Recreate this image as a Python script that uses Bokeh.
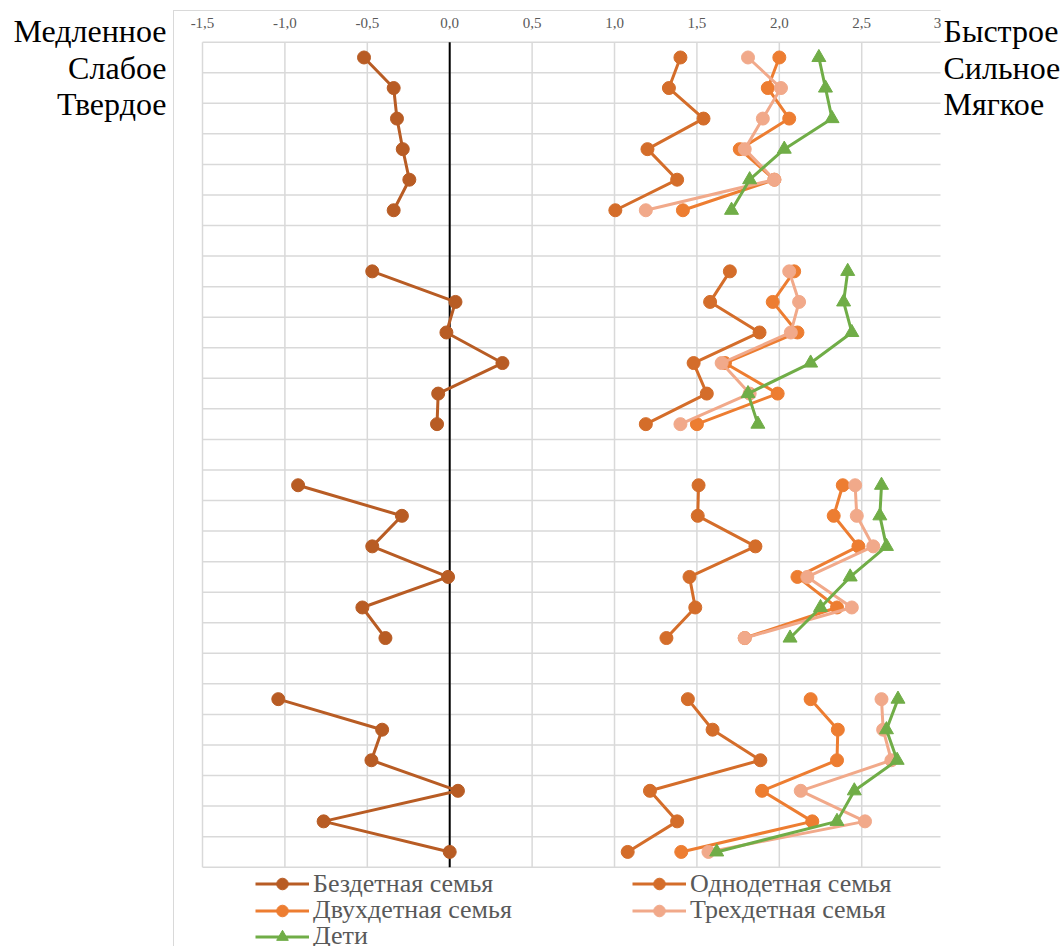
from bokeh.plotting import figure
from bokeh.models import (Range1d, FixedTicker, CustomJSTickFormatter, Label,
                          Legend, LegendItem, BoxAnnotation)
from bokeh.embed import file_html
from bokeh.resources import INLINE

nan = float("nan")

# ---- data -------------------------------------------------------------
left_labels = ["Медленное", "Слабое", "Твердое"]
right_labels = ["Быстрое", "Сильное", "Мягкое"]
x_ticks = [-1.5, -1.0, -0.5, 0.0, 0.5, 1.0, 1.5, 2.0, 2.5]
extra_tick_label = "3"          # the partly hidden last tick label

series_names = ["Бездетная семья", "Однодетная семья", "Двухдетная семья",
                "Трехдетная семья", "Дети"]

# 27 rows: 4 groups of 6 rows, separated by empty rows (nan)
bezdetnaya = [-0.52, -0.34, -0.32, -0.285, -0.245, -0.34, nan,
              -0.47, 0.035, -0.02, 0.32, -0.07, -0.077, nan,
              -0.92, -0.29, -0.47, -0.01, -0.53, -0.39, nan,
              -1.04, -0.41, -0.475, 0.05, -0.765, 0.0]
odnodetnaya = [1.40, 1.33, 1.54, 1.20, 1.38, 1.005, nan,
               1.70, 1.58, 1.88, 1.48, 1.56, 1.19, nan,
               1.51, 1.505, 1.855, 1.455, 1.49, 1.315, nan,
               1.445, 1.595, 1.885, 1.215, 1.38, 1.08]
dvuhdetnaya = [2.00, 1.93, 2.06, 1.76, 1.97, 1.415, nan,
               2.09, 1.96, 2.11, 1.67, 1.99, 1.50, nan,
               2.385, 2.33, 2.48, 2.11, 2.35, 1.79, nan,
               2.19, 2.355, 2.35, 1.895, 2.20, 1.405]
trehdetnaya = [1.81, 2.01, 1.90, 1.79, 1.97, 1.19, nan,
               2.06, 2.12, 2.07, 1.65, 1.82, 1.40, nan,
               2.46, 2.47, 2.57, 2.17, 2.44, 1.79, nan,
               2.62, 2.63, 2.68, 2.13, 2.52, 1.57]
deti = [2.24, 2.28, 2.32, 2.03, 1.82, 1.71, nan,
        2.415, 2.39, 2.44, 2.19, 1.81, 1.87, nan,
        2.62, 2.61, 2.65, 2.43, 2.25, 2.065, nan,
        2.72, 2.65, 2.715, 2.455, 2.35, 1.62]

series_values = [bezdetnaya, odnodetnaya, dvuhdetnaya, trehdetnaya, deti]
colors = ["#B85C24", "#D46D2A", "#ED7D31", "#F1A98A", "#70AD47"]
markers = ["circle", "circle", "circle", "circle", "triangle"]

n_rows = len(bezdetnaya)
rows = [i + 0.5 for i in range(n_rows)]
row_edges = list(range(n_rows + 1))

# ---- layout (pixels) ----------------------------------------------------
W, H = 1060, 946
PL, PR, PT, PB = 202.0, 940.0, 41.7, 866.7      # plot area in the canvas
X_MIN, X_MAX = -1.5, 2.978                        # value span of the plot area
px_x = (PR - PL) / (X_MAX - X_MIN)
px_y = (PB - PT) / n_rows
x_range = Range1d(X_MIN - PL / px_x, X_MAX + (W - PR) / px_x)
y_range = Range1d(n_rows + (H - PB) / px_y, -PT / px_y)   # inverted rows

p = figure(width=W, height=H, x_range=x_range, y_range=y_range,
           x_axis_location="above", y_axis_location=None,
           output_backend="svg", toolbar_location=None,
           min_border=0, min_border_left=0, min_border_right=0,
           min_border_top=0, min_border_bottom=0)
p.outline_line_color = None
p.background_fill_color = "white"
p.border_fill_color = "white"
p.grid.visible = False

SERIF = "Liberation Serif"

# top axis drawn at the top edge of the plot area
ax = p.xaxis[0]
ax.fixed_location = 0
ax.ticker = FixedTicker(ticks=x_ticks)
ax.formatter = CustomJSTickFormatter(code="return tick.toFixed(1).replace('.', ',')")
ax.axis_line_color = None
ax.major_tick_line_color = None
ax.minor_tick_line_color = None
ax.major_label_text_font = SERIF
ax.major_label_text_font_size = "15px"
ax.major_label_text_color = "#595959"
ax.major_label_standoff = 8

# grid of the plot area
GRID = "#d9d9d9"
p.segment(x0=x_ticks, x1=x_ticks, y0=[0] * len(x_ticks), y1=[n_rows] * len(x_ticks),
          line_color=GRID, line_width=1.5)
p.segment(x0=[X_MIN] * len(row_edges), x1=[X_MAX] * len(row_edges),
          y0=row_edges, y1=row_edges, line_color=GRID, line_width=1.5)
# vertical axis line at zero
p.segment(x0=[0], x1=[0], y0=[0], y1=[n_rows], line_color="black", line_width=2)

lines, dots = [], []
for vals, col, mk in zip(series_values, colors, markers):
    lr = p.line(vals, rows, line_color=col, line_width=3)
    sr = p.scatter(vals, rows, marker=mk, size=13 if mk == "circle" else 14,
                   fill_color=col, line_color=col)
    lines.append(lr)
    dots.append(sr)

# ---- chart area border (top and left) ----------------------------------
def canvas_box(l, r, t, b, color):
    p.add_layout(BoxAnnotation(left=l, right=r, top=t, bottom=b,
                               left_units="canvas", right_units="canvas",
                               top_units="canvas", bottom_units="canvas",
                               fill_color=color, fill_alpha=1, line_color=None))

canvas_box(172.5, PR, 9.5, 10.5, GRID)
canvas_box(172.5, 173.5, 9.5, H, GRID)

# ---- legend: one entry per legend box, laid out as in the reference ---
LEG_FONT = 26
GLYPH_H = 29
leg_h = max(GLYPH_H, LEG_FONT * 1.107)
legend_slots = [(255, 884.3), (632, 884.3), (255, 910.5), (632, 910.5), (255, 936.7)]
for i, (lx, cy) in enumerate(legend_slots):
    leg = Legend(items=[LegendItem(label=series_names[i], renderers=[lines[i], dots[i]])],
                 location=(lx, H - (cy + leg_h / 2)), orientation="vertical",
                 label_text_font=SERIF, label_text_font_size=f"{LEG_FONT}px",
                 label_text_color="#595959", glyph_width=54, glyph_height=GLYPH_H,
                 label_standoff=4, spacing=0, padding=0, margin=0,
                 background_fill_alpha=0, border_line_color=None)
    p.add_layout(leg)

# ---- side labels -------------------------------------------------------
label_mid = [30, 67, 103]
for txt, yy in zip(left_labels, label_mid):
    p.add_layout(Label(x=166, y=yy, x_units="canvas", y_units="canvas", text=txt,
                       text_align="right", text_baseline="middle",
                       text_font=SERIF, text_font_size="32px", text_color="black"))
for txt, yy in zip(right_labels, label_mid):
    p.add_layout(Label(x=943, y=yy, x_units="canvas", y_units="canvas", text=txt,
                       text_align="left", text_baseline="middle",
                       text_font=SERIF, text_font_size="32px", text_color="black"))
p.add_layout(Label(x=937, y=22.5, x_units="canvas", y_units="canvas", text=extra_tick_label,
                   text_align="center", text_baseline="middle",
                   text_font=SERIF, text_font_size="15px", text_color="#595959"))

open("out.html", "w").write(file_html(p, INLINE))
